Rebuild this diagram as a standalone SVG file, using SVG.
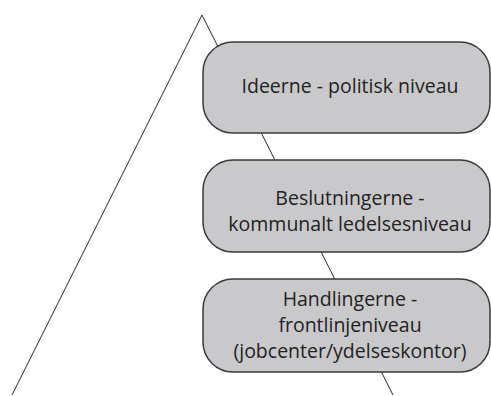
<svg xmlns="http://www.w3.org/2000/svg" width="491" height="396" viewBox="0 0 491 396">
<style>
.box{fill:#c9c9cb;stroke:#3a3a3a;stroke-width:1.5}
.edge{fill:none;stroke:#2a2a2a;stroke-width:1}
.lbl{font-family:"Open Sans","Liberation Sans",sans-serif;font-size:19.5px;fill:#222;text-anchor:middle}
</style>
<rect width="491" height="396" fill="#fff"/>
<g id="connectors">
<path class="edge" d="M12,395 L202,15 L393,395"/>
</g>
<g id="node1">
<rect class="box" x="203" y="42" width="287" height="91" rx="30"/>
<text class="lbl" x="350" y="93">Ideerne - politisk niveau</text>
</g>
<g id="node2">
<rect class="box" x="203" y="160" width="287" height="92" rx="30"/>
<text class="lbl" x="350" y="205">Beslutningerne -</text>
<text class="lbl" x="350" y="231">kommunalt ledelsesniveau</text>
</g>
<g id="node3">
<rect class="box" x="203" y="279" width="287" height="93" rx="30"/>
<text class="lbl" x="350" y="306">Handlingerne -</text>
<text class="lbl" x="350" y="332">frontlinjeniveau</text>
<text class="lbl" x="350" y="358">(jobcenter/ydelseskontor)</text>
</g>
</svg>
